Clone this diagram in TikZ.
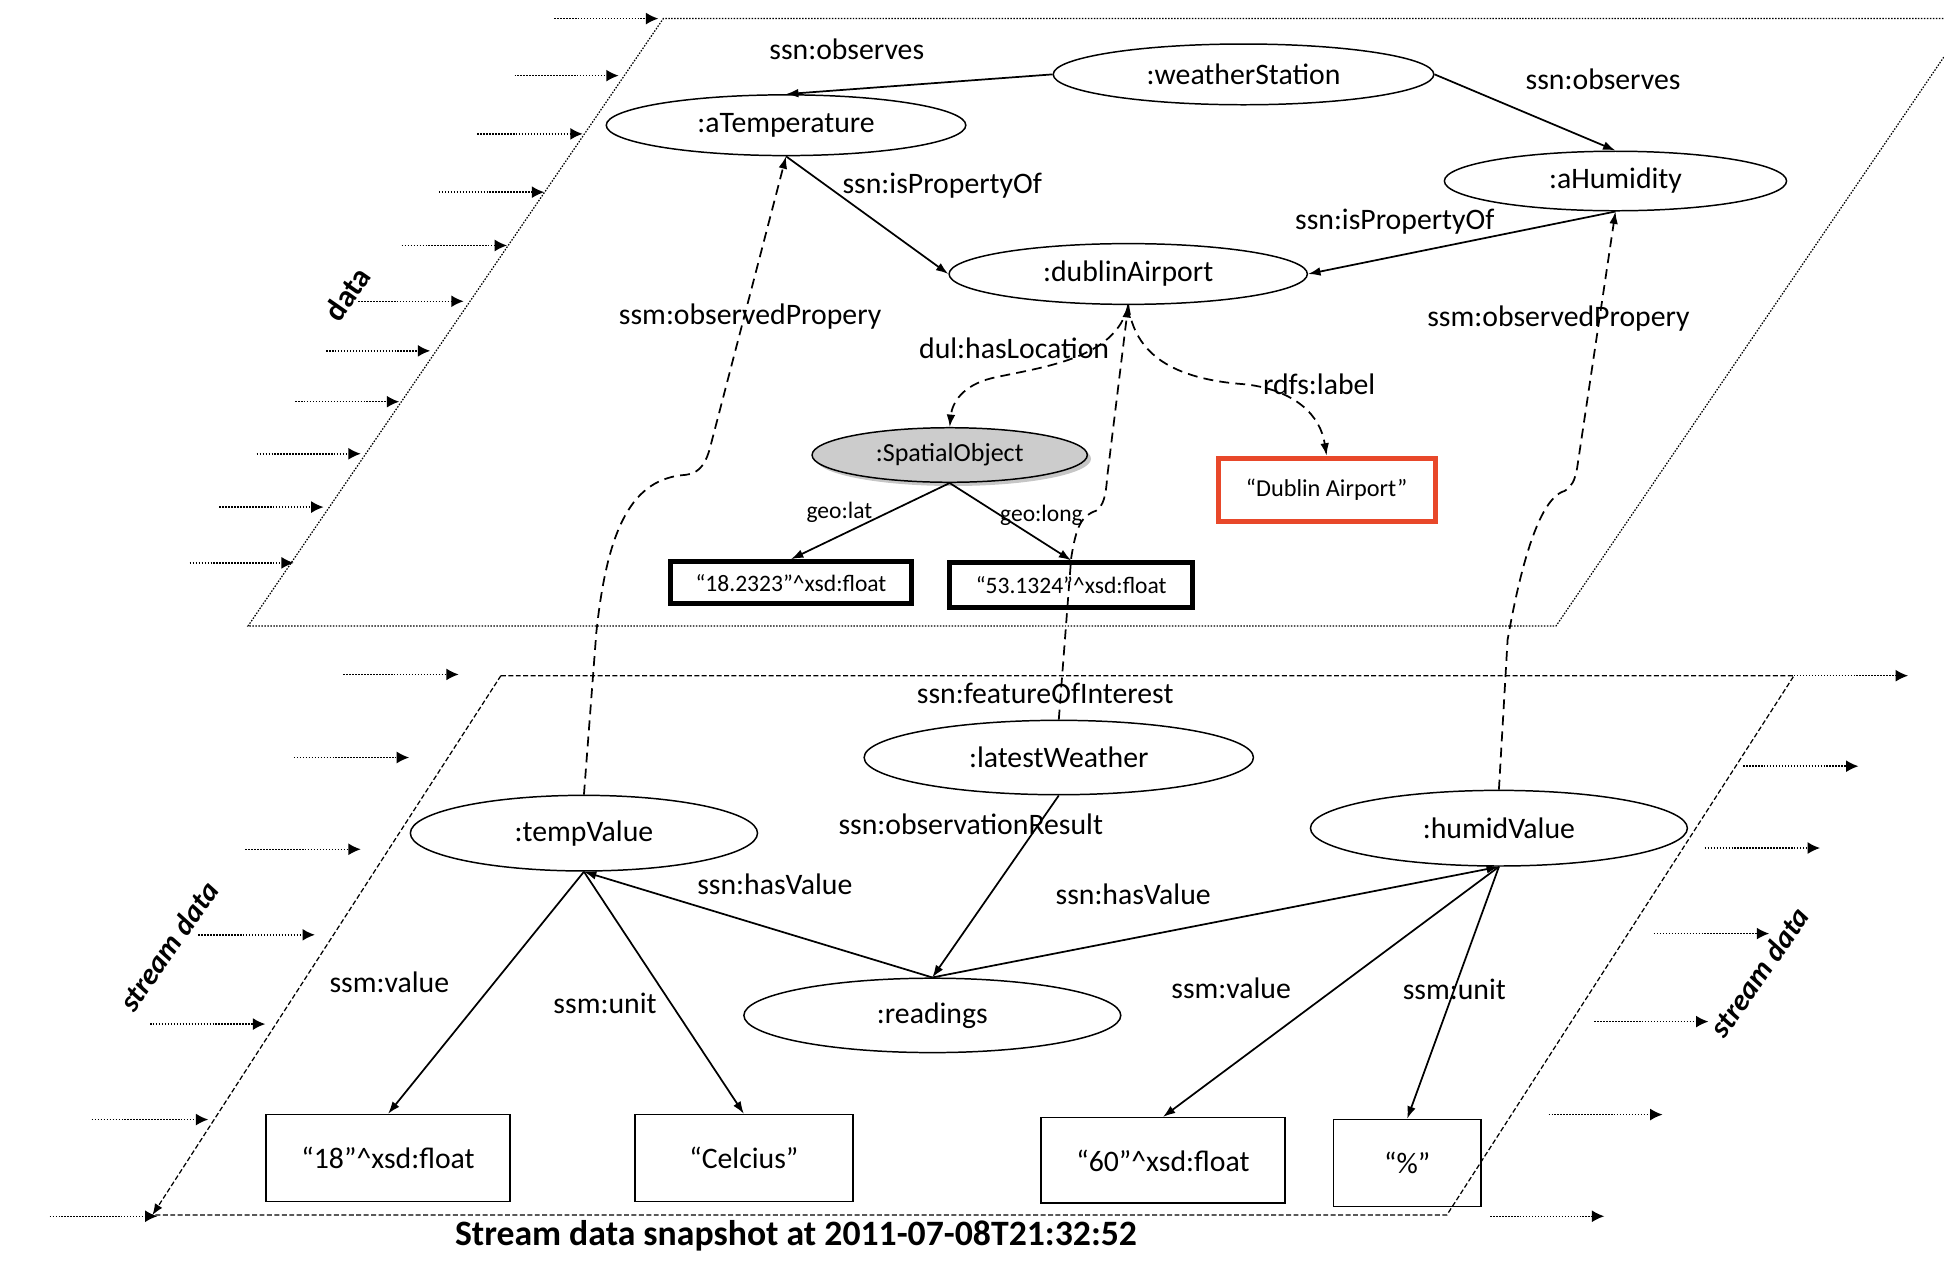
\documentclass[tikz,border=0pt]{standalone}
\usepackage{fontspec}
\setmainfont{Carlito}
\usepackage{tikz}
\usetikzlibrary{shapes,arrows.meta,calc,positioning,shadows}

\begin{document}
\begin{tikzpicture} [x=0.5pt, y=-0.5pt,
res/.style     = { ellipse, draw=black, line width=0.6pt, inner sep=0pt,
    font=\fontsize{12}{14}\selectfont },
spatial/.style = { ellipse, draw=black, line width=0.6pt, inner sep=0pt,
    fill=spatialgray, font=\fontsize{10.5}{12}\selectfont,
    drop shadow={opacity=0.45, shadow xshift=1.5pt, shadow yshift=-1.5pt} },
lit/.style     = { rectangle, draw=black, line width=0.6pt, inner sep=0pt,
    font=\fontsize{12}{14}\selectfont },
geo/.style     = { rectangle, draw=black, line width=2pt, inner sep=0pt,
    font=\fontsize{9.5}{11}\selectfont },
airport/.style = { rectangle, draw=airportred, line width=2pt, inner sep=0pt,
    font=\fontsize{9.8}{11}\selectfont },
lbl/.style     = { inner sep=1pt, font=\fontsize{12}{14}\selectfont },
small/.style   = { inner sep=1pt, font=\fontsize{9.5}{11}\selectfont },
layer/.style   = { rotate=55, font=\fontsize{12}{14}\selectfont\bfseries\itshape },
line/.style    = { draw, line width=0.7pt, -{Latex[length=5pt,width=3.5pt]} },
link/.style    = { draw, line width=0.7pt, dash pattern=on 4pt off 2.5pt,
    -{Latex[length=5pt,width=3.5pt]} },
feed/.style    = { draw, line width=0.6pt, dash pattern=on 0.6pt off 0.6pt,
    -{Latex[length=5pt,width=4.8pt]} },
edge/.style    = { draw, line width=0.5pt, dash pattern=on 2pt off 1pt },
]
\definecolor{spatialgray}{RGB}{204,204,204}
\definecolor{airportred}{RGB}{232,72,42}
\useasboundingbox (0,0) rectangle (1568,1022);

% the two layers
\draw [line width=0.5pt, dash pattern=on 0.6pt off 0.6pt] (1589,15) -- (535,15) -- (200,505) -- (1255,505) -- cycle;
\coordinate (sTL) at (404,545);
\coordinate (sTR) at (1447,545);
\coordinate (sBL) at (123,980);
\coordinate (sBR) at (1167,980);
\path [edge] (sTL) -- (sTR) -- (sBR) -- (sBL);
\path [edge, -{Latex[length=4.5pt,width=3.5pt]}] (sTL) -- (sBL);

\node [layer, font=\fontsize{12.5}{14}\selectfont\bfseries] (data) at (280,237) {data};
\node [layer] (streamL) at (136,763) {stream data};
\node [layer] (streamR) at (1419,784) {stream data};

% incoming data
\path [feed] (447,15) -- (531,15);
\path [feed] (415,61) -- (499,61);
\path [feed] (385,108) -- (470,108);
\path [feed] (354,155) -- (439,155);
\path [feed] (324,198) -- (409,198);
\path [feed] (289,243) -- (374,243);
\path [feed] (263,283) -- (347,283);
\path [feed] (238,324) -- (322,324);
\path [feed] (207,366) -- (291,366);
\path [feed] (177,409) -- (261,409);
\path [feed] (153,454) -- (237,454);
\path [feed] (277,544) -- (370,544);
\path [feed] (237,611) -- (330,611);
\path [feed] (198,685) -- (291,685);
\path [feed] (160,754) -- (254,754);
\path [feed] (121,826) -- (214,826);
\path [feed] (74,903) -- (168,903);
\path [feed] (40,981) -- (127,981);
\path [feed] (1447,545) -- (1539,545);
\path [feed] (1406,618) -- (1499,618);
\path [feed] (1375,684) -- (1468,684);
\path [feed] (1334,753) -- (1427,753);
\path [feed] (1286,824) -- (1378,824);
\path [feed] (1249,899) -- (1341,899);
\path [feed] (1202,981) -- (1294,981);

% Define nodes of the data layer
\node [res, minimum width=153.5pt, minimum height=24.5pt] (station) at (1003,60) {:weatherStation};
\node [res, minimum width=145pt, minimum height=24.5pt] (temp) at (634,101) {:aTemperature};
\node [res, minimum width=138pt, minimum height=24pt] (humid) at (1303,146) {:aHumidity};
\node [res, minimum width=144.5pt, minimum height=24.5pt] (airport) at (910,221) {:dublinAirport};
\node [spatial, minimum width=111pt, minimum height=22pt] (spatial) at (766,367) {:SpatialObject};
\node [geo, minimum width=97.5pt, minimum height=17pt] (lat) at (638,470) {“18.2323”\textasciicircum xsd:float};
\node [geo, minimum width=98pt, minimum height=18pt] (long) at (864,472) {“53.1324”\textasciicircum xsd:float};
\node [airport, minimum width=87.5pt, minimum height=25.5pt] (label) at (1070,395) {“Dublin Airport”};

% Define nodes of the stream layer
\node [res, minimum width=157pt, minimum height=30pt] (weather) at (854,611) {:latestWeather};
\node [res, minimum width=140pt, minimum height=30.5pt] (tval) at (471,672) {:tempValue};
\node [res, minimum width=152pt, minimum height=30.5pt] (hval) at (1209,668) {:humidValue};
\node [res, minimum width=152pt, minimum height=30pt] (readings) at (752,819) {:readings};
\node [lit, minimum width=98.5pt, minimum height=35pt] (t18) at (313,934) {“18”\textasciicircum xsd:float};
\node [lit, minimum width=88pt, minimum height=35pt] (celcius) at (600,934) {“Celcius”};
\node [lit, minimum width=98.5pt, minimum height=34.5pt] (h60) at (938,936) {“60”\textasciicircum xsd:float};
\node [lit, minimum width=59.5pt, minimum height=35pt] (percent) at (1135,938) {“\%”};

% edge labels
\node [lbl] (obs1) at (683,40) {ssn:observes};
\node [lbl] (obs2) at (1293,64) {ssn:observes};
\node [lbl] (prop1) at (760,150) {ssn:isPropertyOf};
\node [lbl] (prop2) at (1125,179) {ssn:isPropertyOf};
\node [lbl] (oprop1) at (605,255) {ssm:observedPropery};
\node [lbl] (oprop2) at (1257,257) {ssm:observedPropery};
\node [lbl] (loc) at (818,281) {dul:hasLocation};
\node [lbl] (rdfs) at (1064,310) {rdfs:label};
\node [small] (glat) at (677,413) {geo:lat};
\node [small] (glong) at (840,416) {geo:long};
\node [lbl] (foi) at (843,559) {ssn:featureOfInterest};
\node [lbl] (ores) at (783,665) {ssn:observationResult};
\node [lbl] (hv1) at (625,713) {ssn:hasValue};
\node [lbl] (hv2) at (914,721) {ssn:hasValue};
\node [lbl] (val1) at (314,792) {ssm:value};
\node [lbl] (unit1) at (488,809) {ssm:unit};
\node [lbl] (val2) at (993,797) {ssm:value};
\node [lbl] (unit2) at (1173,798) {ssm:unit};

\node [font=\fontsize{14.4}{16}\selectfont\bfseries] (title) at (642,997) {Stream data snapshot at 2011-07-08T21:32:52};

% connect all nodes defined above
\begin{scope} [every path/.style=line]
\path (station.west) -- (temp.north);
\path (station.east) -- (humid.north);
\path (temp.south) -- (airport.west);
\path (humid.south) -- (airport.east);
\path (spatial.south) -- (lat.north);
\path (spatial.south) -- (long.north);
\path (weather.south) -- (readings.north);
\path (readings.north) -- (tval.south);
\path (readings.north) -- (hval.south);
\path (tval.south) -- (t18.north);
\path (tval.south) -- (celcius.north);
\path (hval.south) -- (h60.north);
\path (hval.south) -- (percent.north);
\end{scope}

\begin{scope} [every path/.style=link]
\path (airport.south) .. controls (900,290) and (840,296) .. (800,305) .. controls (776,311) and (768,325) .. (spatial.north);
\path (airport.south) .. controls (915,285) and (945,306) .. (1005,310) .. controls (1045,315) and (1065,335) .. (label.north);
\path (tval.north) -- (481,510) .. controls (490,425) and (510,386) .. (553,383) .. controls (565,382) and (570,372) .. (573,360) -- (temp.south);
\path (weather.north) -- (864,450) .. controls (868,425) and (872,416) .. (884,412) .. controls (890,408) and (892,400) .. (893,385) -- (airport.south);
\path (hval.north) -- (1216,516) .. controls (1225,465) and (1240,402) .. (1262,396) .. controls (1268,392) and (1270,388) .. (1272,378) -- (humid.south);
\end{scope}

\end{tikzpicture}
\end{document}
